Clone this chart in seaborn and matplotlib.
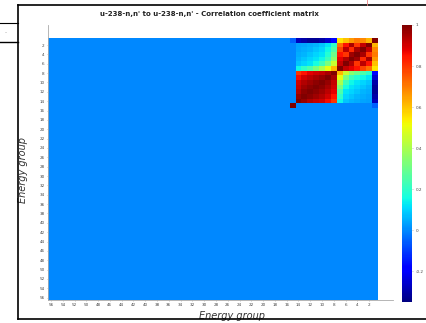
import numpy as np
import pandas as pd
import seaborn as sns
import matplotlib
matplotlib.use("Agg")
import matplotlib.pyplot as plt
from matplotlib.lines import Line2D

# Número total de grupos de energía y valores
n_grupos = 56
grupos_con_datos = list(range(1, 16))

# Matriz de correlación (grupos 1-15); el resto de la matriz es 0
corr_1 = [1.00, 0.62, 0.68, 0.70, 0.66, 0.60, 0.55, -0.18, -0.26, -0.30, -0.32, -0.32, -0.30, -0.28, -0.05]
corr_2 = [0.62, 1.00, 0.92, 0.80, 0.95, 0.85, 0.72, 0.20, 0.12, 0.08, 0.06, 0.05, 0.04, 0.03, 0.00]
corr_3 = [0.68, 0.92, 1.00, 0.95, 0.82, 0.93, 0.78, 0.25, 0.15, 0.10, 0.08, 0.06, 0.05, 0.04, 0.00]
corr_4 = [0.70, 0.80, 0.95, 1.00, 0.96, 0.80, 0.85, 0.30, 0.18, 0.12, 0.10, 0.08, 0.06, 0.05, 0.00]
corr_5 = [0.66, 0.95, 0.82, 0.96, 1.00, 0.94, 0.88, 0.35, 0.22, 0.15, 0.12, 0.10, 0.08, 0.06, 0.00]
corr_6 = [0.60, 0.85, 0.93, 0.80, 0.94, 1.00, 0.92, 0.45, 0.32, 0.22, 0.16, 0.12, 0.10, 0.08, 0.00]
corr_7 = [0.55, 0.72, 0.78, 0.85, 0.88, 0.92, 1.00, 0.62, 0.50, 0.40, 0.32, 0.25, 0.20, 0.15, 0.00]
corr_8 = [-0.18, 0.20, 0.25, 0.30, 0.35, 0.45, 0.62, 1.00, 0.95, 0.92, 0.90, 0.88, 0.85, 0.80, 0.00]
corr_9 = [-0.26, 0.12, 0.15, 0.18, 0.22, 0.32, 0.50, 0.95, 1.00, 0.97, 0.95, 0.93, 0.90, 0.86, 0.00]
corr_10 = [-0.30, 0.08, 0.10, 0.12, 0.15, 0.22, 0.40, 0.92, 0.97, 1.00, 0.98, 0.96, 0.94, 0.90, 0.00]
corr_11 = [-0.32, 0.06, 0.08, 0.10, 0.12, 0.16, 0.32, 0.90, 0.95, 0.98, 1.00, 0.98, 0.96, 0.92, 0.00]
corr_12 = [-0.32, 0.05, 0.06, 0.08, 0.10, 0.12, 0.25, 0.88, 0.93, 0.96, 0.98, 1.00, 0.98, 0.94, 0.00]
corr_13 = [-0.30, 0.04, 0.05, 0.06, 0.08, 0.10, 0.20, 0.85, 0.90, 0.94, 0.96, 0.98, 1.00, 0.97, 0.00]
corr_14 = [-0.28, 0.03, 0.04, 0.05, 0.06, 0.08, 0.15, 0.80, 0.86, 0.90, 0.92, 0.94, 0.97, 1.00, 0.00]
corr_15 = [-0.05, 0.00, 0.00, 0.00, 0.00, 0.00, 0.00, 0.00, 0.00, 0.00, 0.00, 0.00, 0.00, 0.00, 1.00]

filas = [corr_1, corr_2, corr_3, corr_4, corr_5, corr_6, corr_7, corr_8,
         corr_9, corr_10, corr_11, corr_12, corr_13, corr_14, corr_15]

cbar_ticks = [1, 0.8, 0.6, 0.4, 0.2, 0, -0.2]
cbar_labels = ['1', '0.8', '0.6', '0.4', '0.2', '0', '-0.2']

# Construir la matriz completa (filas: grupo 1 arriba; columnas: grupo 56 a la izquierda)
grupos = list(range(1, n_grupos + 1))
matriz = pd.DataFrame(0.0, index=grupos, columns=grupos)
for g, fila in zip(grupos_con_datos, filas):
    matriz.loc[g, grupos_con_datos] = fila
matriz = matriz[grupos[::-1]]

fig = plt.figure(figsize=(4.26, 3.23), dpi=100)
W, H = 426, 323
ax = fig.add_axes([48 / W, 1 - 300 / H, 345 / W, 275 / H])
cax = fig.add_axes([402 / W, 1 - 302 / H, 10 / W, 277 / H])

sns.heatmap(matriz, cmap='jet', vmin=-0.35, vmax=1, ax=ax, cbar_ax=cax,
            xticklabels=False, yticklabels=False)

# Ejes
ax.set_xlim(0, n_grupos * 345 / 330)
ax.set_ylim(n_grupos, -13 / 262 * n_grupos)
pares = list(range(2, n_grupos + 1, 2))
cols = list(matriz.columns)
ax.set_xticks([cols.index(g) + 0.5 for g in pares[::-1]])
ax.set_xticklabels([str(g) for g in pares[::-1]], fontsize=3, rotation=0, color='#444444')
ax.set_yticks([g - 0.5 for g in pares])
ax.set_yticklabels([str(g) for g in pares], fontsize=3, rotation=0, color='#444444')
ax.tick_params(length=1, width=0.4, pad=1.5, colors='#999999', labelcolor='#444444')
for s in ['left', 'bottom']:
    ax.spines[s].set_visible(True)
    ax.spines[s].set_color('#aaaaaa')
    ax.spines[s].set_linewidth(0.6)

ax.set_xlabel('Energy group', fontsize=7, style='italic', color='#333333', labelpad=1)
ax.xaxis.set_label_coords((232 - 48) / 345, -11 / 275)
ax.set_ylabel('Energy group', fontsize=7, style='italic', color='#333333', labelpad=1)
ax.yaxis.set_label_coords(-(48 - 28) / 345, (300 - 170) / 275)

fig.text(209 / W, 1 - 14 / H, "u-238-n,n' to u-238-n,n' - Correlation coefficient matrix",
         ha='center', va='center', fontsize=5, fontweight='bold', color='#222222')

# Barra de color
cbar = ax.collections[0].colorbar
cbar.set_ticks(cbar_ticks)
cbar.set_ticklabels(cbar_labels)
cbar.outline.set_visible(False)
cax.tick_params(labelsize=3, length=1, width=0.4, pad=1.5, colors='#999999', labelcolor='#444444')

# Marco de la captura de pantalla
def linea(x0, y0, x1, y1, color='black', lw=1.2):
    fig.add_artist(Line2D([x0 / W, x1 / W], [1 - y0 / H, 1 - y1 / H], color=color, lw=lw))

linea(18, 5, 426, 5)
linea(18, 5, 18, 319)
linea(18, 319, 426, 319)
linea(0, 23, 18, 23, lw=0.8)
linea(0, 42, 18, 42, lw=1.0)
linea(367, 0, 367, 5, color='#e88080', lw=0.6)
fig.text(6 / W, 1 - 32 / H, '–', fontsize=3, color='#555555', ha='center', va='center')

fig.savefig('out.png', dpi=100)
